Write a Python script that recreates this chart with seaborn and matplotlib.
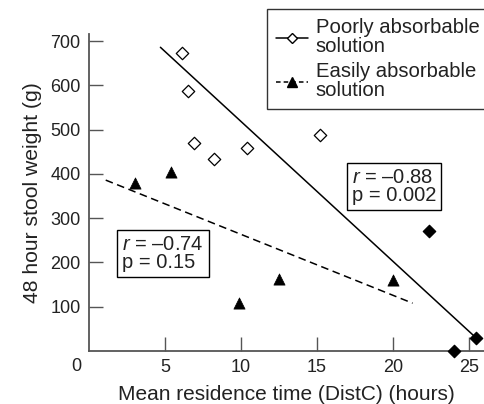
import numpy as np
import matplotlib
matplotlib.use('Agg')
import matplotlib.pyplot as plt
import seaborn as sns
from matplotlib.lines import Line2D

# Data
poor_x = [6.1, 6.5, 6.9, 8.2, 10.4, 15.2]
poor_y = [673, 587, 470, 433, 458, 488]
filled_x = [22.4, 25.5, 24.0]
filled_y = [271, 29, 0]
easy_x = [3.0, 5.4, 9.9, 12.5, 20.0]
easy_y = [379, 404, 108, 162, 160]

# regression lines (end points)
poor_fit_x = [4.7, 25.5]
poor_fit_y = [686, 29]
easy_fit_x = [1.1, 21.3]
easy_fit_y = [386, 108]

x_ticks = [5, 10, 15, 20, 25]
y_ticks = [100, 200, 300, 400, 500, 600, 700]

sns.set_theme(style="ticks")
plt.rcParams['font.family'] = ['Liberation Sans', 'DejaVu Sans']
plt.rcParams['mathtext.fontset'] = 'custom'
plt.rcParams['mathtext.it'] = 'Liberation Sans:italic'
plt.rcParams['mathtext.rm'] = 'Liberation Sans'

txt = '#222222'

fig = plt.figure(figsize=(4.84, 4.04), dpi=100)
ax = fig.add_axes([89 / 484, 53 / 404, 395 / 484, 317 / 404])

ax.plot(poor_fit_x, poor_fit_y, color='black', lw=1.1)
ax.plot(easy_fit_x, easy_fit_y, color='black', lw=1.1, dashes=(5, 3))

sns.scatterplot(x=poor_x, y=poor_y, ax=ax, marker='D', s=40,
                facecolor='white', edgecolor='black', linewidth=0.9, zorder=3)
sns.scatterplot(x=filled_x, y=filled_y, ax=ax, marker='D', s=40,
                color='black', edgecolor='black', linewidth=0.9, zorder=3,
                clip_on=False)
sns.scatterplot(x=easy_x, y=easy_y, ax=ax, marker='^', s=65,
                color='black', edgecolor='black', linewidth=0.5, zorder=3)

ax.set_xlim(0, 26)
ax.set_ylim(0, 716)
ax.set_xticks(x_ticks)
ax.set_yticks(y_ticks)
ax.tick_params(direction='in', length=10, width=1, color='#555555',
               labelsize=13, labelcolor=txt, pad=6)
for s in ['top', 'right']:
    ax.spines[s].set_visible(False)
for s in ['left', 'bottom']:
    ax.spines[s].set_color('#555555')
    ax.spines[s].set_linewidth(1.3)

ax.annotate('0', xy=(0, 0), xycoords='data', xytext=(-9, -11.5),
            textcoords='offset points', ha='center', va='center',
            fontsize=13, color=txt)

ax.set_xlabel('Mean residence time (DistC) (hours)', fontsize=15,
              color=txt, labelpad=6)
ax.set_ylabel('48 hour stool weight (g)', fontsize=15.2,
              color=txt, labelpad=6)

box = dict(boxstyle='square,pad=0.25', facecolor='white', edgecolor='black', lw=1)
ax.text(2.2, 220, '$r$ = \u20130.74\np = 0.15', fontsize=14.5, ha='left',
        va='center', linespacing=0.95, bbox=box, color=txt)
ax.text(17.3, 372, '$r$ = \u20130.88\np = 0.002', fontsize=14.5, ha='left',
        va='center', linespacing=0.95, bbox=box, color=txt)

handles = [
    Line2D([], [], color='black', lw=1.1, marker='D', markersize=5.5,
           markerfacecolor='white', markeredgecolor='black'),
    Line2D([], [], color='black', lw=1.1, dashes=(3, 2), marker='^',
           markersize=7, markerfacecolor='black'),
]
labels = ['Poorly absorbable\nsolution', 'Easily absorbable\nsolution']
leg = fig.legend(handles, labels, loc='upper left',
                 bbox_to_anchor=(267 / 484, 1 - 9 / 404), fontsize=14.6,
                 frameon=True, fancybox=False, handlelength=1.55,
                 handletextpad=0.4, labelspacing=0.3, borderpad=0.45,
                 borderaxespad=0)
leg.get_frame().set_edgecolor('black')
leg.get_frame().set_linewidth(1)
for t in leg.get_texts():
    t.set_linespacing(1.0)
    t.set_color(txt)

fig.savefig('out.png', dpi=100)
